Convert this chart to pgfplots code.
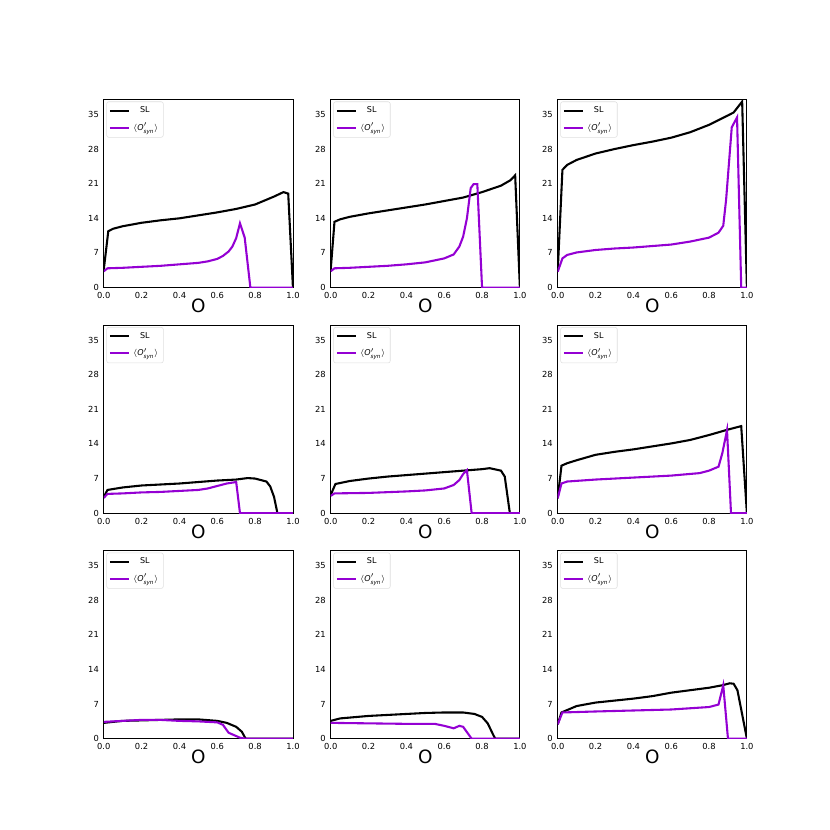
\documentclass[border=0pt]{standalone}
\usepackage{amsmath}
\usepackage{fontspec}
\setmainfont{DejaVu Sans}
\usepackage{pgfplots}
\pgfplotsset{compat=1.18}

\definecolor{synviolet}{HTML}{9400D3}

\pgfplotsset{
  panel/.style={
    width=136.22pt, height=135.36pt, scale only axis,
    anchor=south west,
    xmin=0, xmax=1, ymin=0, ymax=38,
    xtick={0,0.2,0.4,0.6,0.8,1.0},
    ytick={0,7,14,21,28,35},
    xticklabel style={/pgf/number format/.cd,fixed,fixed zerofill,precision=1},
    /pgf/number format/assume math mode=true,
    major tick length=0pt,
    axis line style={line width=0.6pt},
    tick label style={font=\fontsize{6}{6}\selectfont},
    xlabel={O},
    xlabel style={font=\fontsize{13.2}{14}\selectfont,
      at={(axis description cs:0.5,0)}, anchor=center, yshift=-13.3pt},
    every axis plot/.append style={line width=1.5pt, mark=none},
    legend cell align=left,
    legend style={at={(axis description cs:0.014,0.99)}, anchor=north west,
      draw=gray!25, rounded corners=1.5pt, fill=white,
      font=\fontsize{5.8}{6}\selectfont, inner xsep=1.5pt, inner ysep=1.5pt,
      row sep=2pt},
    legend image code/.code={\draw[#1, line width=1.5pt] (0pt,0pt) -- (14pt,0pt);},
  },
}

\newcommand{\legendlabels}{\legend{\hspace{5pt}SL, $\langle \text{\itshape O}'_{\text{\itshape syn}}\rangle$}}

\begin{document}
\begin{tikzpicture}
\path (0,0) rectangle (597.6pt,597.6pt);

% row 1
\begin{axis}[panel, at={(74.70pt,390.53pt)}]
\addplot[black] coordinates {(0,3.6) (0.024,11.4) (0.05,11.9) (0.1,12.4) (0.2,13.1) (0.3,13.6) (0.4,14.0) (0.5,14.6) (0.6,15.2) (0.7,15.9) (0.8,16.8) (0.9,18.4) (0.95,19.3) (0.975,19.0) (1.0,0)};
\addplot[synviolet] coordinates {(0,3.3) (0.02,3.9) (0.1,4.0) (0.2,4.2) (0.3,4.4) (0.4,4.7) (0.5,5.0) (0.55,5.3) (0.6,5.8) (0.63,6.4) (0.66,7.3) (0.68,8.3) (0.70,10.0) (0.72,13.0) (0.745,10.1) (0.775,0) (1.0,0)};
\legendlabels
\end{axis}

\begin{axis}[panel, at={(238.10pt,390.53pt)}]
\addplot[black] coordinates {(0,3.6) (0.02,13.3) (0.05,13.8) (0.1,14.3) (0.2,15.0) (0.3,15.6) (0.4,16.2) (0.5,16.8) (0.6,17.5) (0.7,18.2) (0.8,19.3) (0.9,20.6) (0.95,21.7) (0.975,22.7) (1.0,0)};
\addplot[synviolet] coordinates {(0,3.3) (0.02,3.9) (0.1,4.0) (0.2,4.2) (0.3,4.4) (0.4,4.7) (0.5,5.1) (0.6,5.9) (0.65,6.7) (0.68,8.3) (0.70,10.3) (0.72,14.0) (0.74,20.1) (0.755,20.9) (0.775,20.9) (0.80,0) (1.0,0)};
\legendlabels
\end{axis}

\begin{axis}[panel, at={(401.54pt,390.53pt)}]
\addplot[black] coordinates {(0,3.2) (0.025,23.8) (0.05,24.8) (0.1,25.8) (0.2,27.1) (0.3,28.0) (0.4,28.8) (0.5,29.5) (0.6,30.3) (0.7,31.4) (0.8,32.9) (0.9,34.8) (0.93,35.4) (0.975,37.6) (1.0,0)};
\addplot[synviolet] coordinates {(0,3.2) (0.025,5.9) (0.05,6.6) (0.1,7.1) (0.2,7.6) (0.3,7.9) (0.4,8.1) (0.5,8.4) (0.6,8.7) (0.7,9.3) (0.8,10.1) (0.85,11.1) (0.875,12.5) (0.89,17.7) (0.92,32.4) (0.948,34.4) (0.97,0) (1.0,0)};
\legendlabels
\end{axis}

% row 2
\begin{axis}[panel, at={(74.70pt,228.10pt)}]
\addplot[black] coordinates {(0,3.3) (0.02,4.7) (0.1,5.2) (0.2,5.6) (0.3,5.8) (0.4,6.0) (0.5,6.3) (0.6,6.6) (0.7,6.8) (0.76,7.1) (0.8,7.0) (0.86,6.4) (0.88,5.4) (0.9,3.3) (0.918,0) (1.0,0)};
\addplot[synviolet] coordinates {(0,3.1) (0.02,3.9) (0.1,4.0) (0.2,4.2) (0.3,4.3) (0.4,4.5) (0.5,4.7) (0.55,5.0) (0.6,5.5) (0.65,6.0) (0.70,6.3) (0.72,0) (1.0,0)};
\legendlabels
\end{axis}

\begin{axis}[panel, at={(238.10pt,228.10pt)}]
\addplot[black] coordinates {(0,3.7) (0.025,5.9) (0.1,6.5) (0.2,7.0) (0.3,7.4) (0.4,7.7) (0.5,8.0) (0.6,8.3) (0.7,8.6) (0.8,8.9) (0.84,9.1) (0.9,8.6) (0.92,7.4) (0.947,0) (1.0,0)};
\addplot[synviolet] coordinates {(0,3.5) (0.02,4.0) (0.2,4.1) (0.4,4.4) (0.5,4.6) (0.6,5.0) (0.65,5.7) (0.68,6.7) (0.70,7.9) (0.72,8.7) (0.745,0) (1.0,0)};
\legendlabels
\end{axis}

\begin{axis}[panel, at={(401.54pt,228.10pt)}]
\addplot[black] coordinates {(0,3.0) (0.02,9.6) (0.05,10.1) (0.1,10.7) (0.2,11.8) (0.3,12.4) (0.4,12.9) (0.5,13.5) (0.6,14.1) (0.7,14.8) (0.8,15.8) (0.9,16.9) (0.95,17.4) (0.97,17.6) (1.0,0)};
\addplot[synviolet] coordinates {(0,3.0) (0.02,6.0) (0.05,6.4) (0.2,6.8) (0.4,7.2) (0.6,7.6) (0.75,8.1) (0.8,8.6) (0.85,9.4) (0.87,12.1) (0.895,16.8) (0.916,0) (1.0,0)};
\legendlabels
\end{axis}

% row 3
\begin{axis}[panel, at={(74.70pt,65.74pt)}]
\addplot[black] coordinates {(0,3.2) (0.1,3.6) (0.2,3.7) (0.3,3.8) (0.4,3.9) (0.5,3.9) (0.6,3.6) (0.65,3.2) (0.7,2.4) (0.73,1.4) (0.75,0) (1.0,0)};
\addplot[synviolet] coordinates {(0,3.4) (0.1,3.6) (0.2,3.8) (0.3,3.8) (0.4,3.6) (0.5,3.5) (0.6,3.3) (0.63,2.8) (0.66,1.2) (0.69,0.7) (0.72,0.2) (0.75,0) (1.0,0)};
\legendlabels
\end{axis}

\begin{axis}[panel, at={(238.10pt,65.74pt)}]
\addplot[black] coordinates {(0,3.6) (0.05,4.1) (0.2,4.6) (0.3,4.8) (0.4,5.0) (0.5,5.2) (0.6,5.3) (0.7,5.3) (0.76,5.0) (0.8,4.4) (0.83,3.1) (0.86,0.7) (0.87,0) (1.0,0)};
\addplot[synviolet] coordinates {(0,3.2) (0.2,3.1) (0.4,3.0) (0.55,3.0) (0.6,2.6) (0.65,2.1) (0.68,2.6) (0.7,2.4) (0.745,0) (1.0,0)};
\legendlabels
\end{axis}

\begin{axis}[panel, at={(401.54pt,65.74pt)}]
\addplot[black] coordinates {(0,2.9) (0.02,5.3) (0.1,6.6) (0.2,7.3) (0.3,7.7) (0.4,8.1) (0.5,8.6) (0.6,9.3) (0.7,9.8) (0.8,10.3) (0.87,10.8) (0.91,11.2) (0.93,11.1) (0.95,9.8) (0.97,5.9) (1.0,0)};
\addplot[synviolet] coordinates {(0,2.9) (0.025,5.3) (0.2,5.5) (0.4,5.7) (0.6,5.9) (0.8,6.4) (0.85,6.9) (0.875,10.8) (0.9,0) (1.0,0)};
\legendlabels
\end{axis}
\end{tikzpicture}
\end{document}
